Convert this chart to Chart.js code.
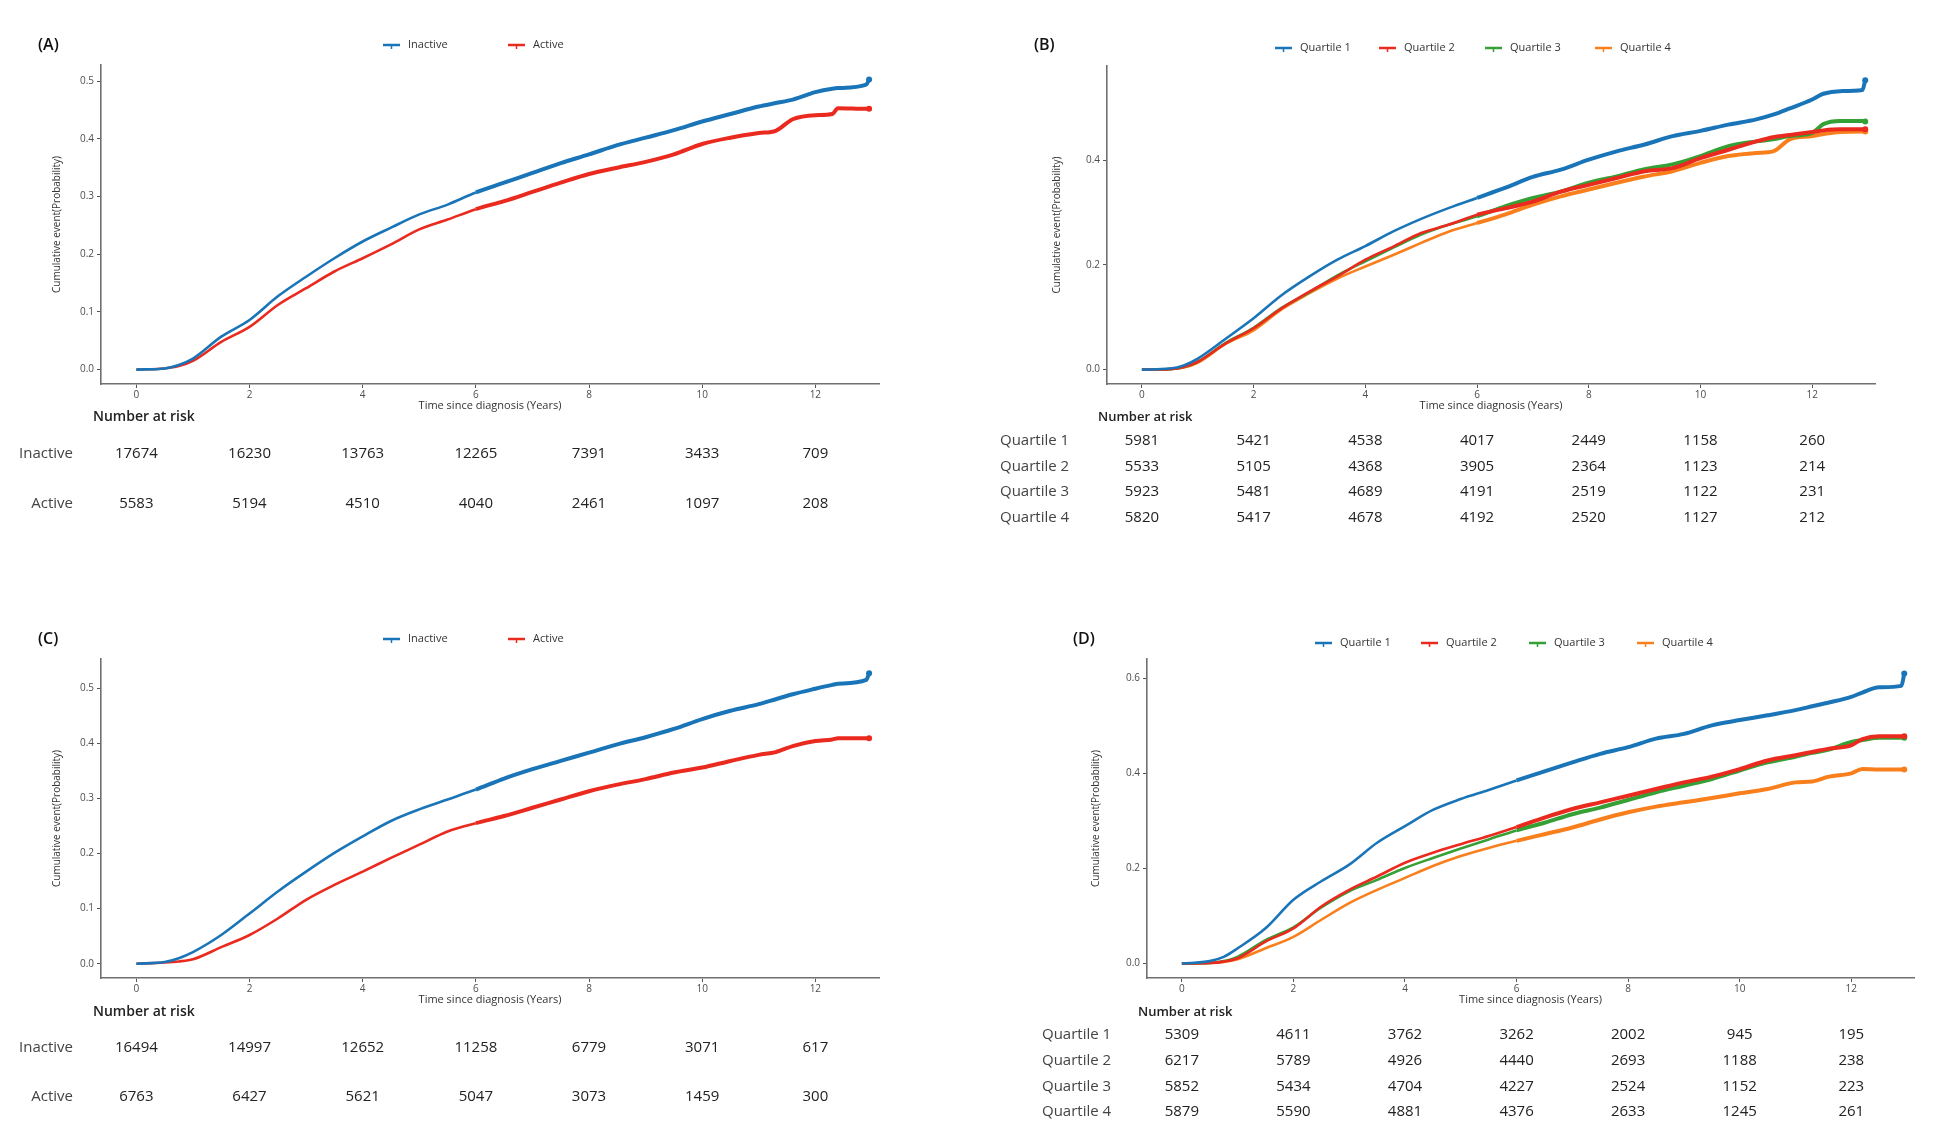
<!DOCTYPE html>
<html>
<head>
<meta charset="utf-8">
<script src="https://cdn.jsdelivr.net/npm/chart.js@4.4.0/dist/chart.umd.min.js"></script>
<style>
    body { margin: 0; background: #fff; }
    #wrap { position: relative; width: 1938px; height: 1125px; background: #fff; }
    canvas { position: absolute; }
</style>
</head>
<body>
<div id="wrap">
    <canvas id="chartA" width="969" height="562" style="left:0;top:0"></canvas>
    <canvas id="chartB" width="969" height="562" style="left:969px;top:0"></canvas>
    <canvas id="chartC" width="969" height="563" style="left:0;top:562px"></canvas>
    <canvas id="chartD" width="969" height="563" style="left:969px;top:562px"></canvas>
</div>
<script>
// time grids (years since diagnosis)
const timesAC = [0, 0.5, 0.75, 1, 1.5, 2, 2.5, 3, 3.5, 4, 4.5, 5, 5.5, 6, 6.5, 7, 7.5, 8, 8.5, 9, 9.5, 10, 10.5, 11, 11.3, 11.6, 12, 12.3, 12.4, 12.9, 12.95];
const timesBD = [0, 0.5, 0.75, 1, 1.5, 2, 2.5, 3, 3.5, 4, 4.5, 5, 5.5, 6, 6.5, 7, 7.5, 8, 8.5, 9, 9.5, 10, 10.5, 11, 11.3, 11.6, 12, 12.2, 12.5, 12.9, 12.95];

// (A) cumulative event probability
const aInactive = [0, 0.002, 0.008, 0.019, 0.057, 0.086, 0.127, 0.161, 0.193, 0.222, 0.246, 0.269, 0.286, 0.307, 0.324, 0.341, 0.358, 0.373, 0.389, 0.402, 0.415, 0.430, 0.443, 0.456, 0.462, 0.468, 0.481, 0.487, 0.488, 0.494, 0.503];
const aActive = [0, 0.002, 0.006, 0.015, 0.048, 0.074, 0.112, 0.141, 0.170, 0.193, 0.217, 0.243, 0.260, 0.278, 0.292, 0.308, 0.324, 0.339, 0.350, 0.360, 0.373, 0.391, 0.402, 0.410, 0.414, 0.434, 0.441, 0.443, 0.453, 0.452, 0.452];

// (B)
const bQ1 = [0, 0.002, 0.008, 0.021, 0.059, 0.098, 0.142, 0.178, 0.210, 0.236, 0.264, 0.288, 0.309, 0.328, 0.347, 0.368, 0.382, 0.401, 0.417, 0.430, 0.446, 0.456, 0.468, 0.478, 0.487, 0.499, 0.516, 0.527, 0.532, 0.534, 0.553];
const bQ2 = [0, 0.001, 0.005, 0.015, 0.050, 0.079, 0.117, 0.149, 0.178, 0.210, 0.235, 0.261, 0.277, 0.296, 0.308, 0.321, 0.340, 0.353, 0.366, 0.379, 0.385, 0.404, 0.420, 0.436, 0.444, 0.448, 0.454, 0.457, 0.459, 0.459, 0.459];
const bQ3 = [0, 0.001, 0.005, 0.015, 0.051, 0.080, 0.118, 0.148, 0.180, 0.207, 0.233, 0.258, 0.277, 0.293, 0.312, 0.328, 0.340, 0.357, 0.369, 0.383, 0.392, 0.408, 0.427, 0.436, 0.440, 0.446, 0.452, 0.469, 0.475, 0.475, 0.474];
const bQ4 = [0, 0.001, 0.004, 0.013, 0.049, 0.075, 0.115, 0.146, 0.174, 0.197, 0.219, 0.242, 0.264, 0.280, 0.296, 0.315, 0.331, 0.344, 0.357, 0.369, 0.379, 0.395, 0.408, 0.414, 0.417, 0.440, 0.446, 0.450, 0.454, 0.455, 0.455];

// (C)
const cInactive = [0, 0.003, 0.010, 0.021, 0.052, 0.091, 0.131, 0.167, 0.201, 0.231, 0.259, 0.280, 0.298, 0.316, 0.336, 0.353, 0.368, 0.383, 0.398, 0.411, 0.426, 0.444, 0.459, 0.471, 0.480, 0.489, 0.499, 0.506, 0.508, 0.515, 0.527];
const cActive = [0, 0.002, 0.004, 0.008, 0.030, 0.052, 0.082, 0.116, 0.143, 0.167, 0.192, 0.216, 0.240, 0.255, 0.268, 0.283, 0.298, 0.313, 0.325, 0.335, 0.347, 0.356, 0.368, 0.379, 0.384, 0.395, 0.404, 0.407, 0.409, 0.409, 0.409];

// (D)
const dQ1 = [0, 0.005, 0.014, 0.032, 0.074, 0.134, 0.173, 0.208, 0.254, 0.289, 0.323, 0.346, 0.365, 0.385, 0.404, 0.423, 0.441, 0.455, 0.473, 0.483, 0.501, 0.512, 0.522, 0.533, 0.541, 0.549, 0.561, 0.570, 0.581, 0.584, 0.610];
const dQ2 = [0, 0.001, 0.004, 0.011, 0.046, 0.074, 0.120, 0.155, 0.183, 0.212, 0.233, 0.251, 0.268, 0.287, 0.307, 0.325, 0.339, 0.353, 0.367, 0.381, 0.393, 0.409, 0.427, 0.438, 0.445, 0.452, 0.459, 0.472, 0.478, 0.478, 0.478];
const dQ3 = [0, 0.001, 0.005, 0.014, 0.049, 0.076, 0.118, 0.152, 0.176, 0.201, 0.222, 0.242, 0.261, 0.280, 0.296, 0.314, 0.328, 0.344, 0.360, 0.374, 0.388, 0.406, 0.423, 0.435, 0.443, 0.450, 0.466, 0.470, 0.475, 0.475, 0.475];
const dQ4 = [0, 0.001, 0.003, 0.009, 0.032, 0.056, 0.092, 0.127, 0.155, 0.180, 0.205, 0.226, 0.243, 0.258, 0.272, 0.286, 0.303, 0.318, 0.330, 0.339, 0.348, 0.358, 0.367, 0.381, 0.383, 0.393, 0.400, 0.409, 0.408, 0.408, 0.408];

// axis ticks and number at risk
const xTicks = [0, 2, 4, 6, 8, 10, 12];
const yTicksAC = [0, 0.1, 0.2, 0.3, 0.4, 0.5];
const yTicksB = [0, 0.2, 0.4];
const yTicksD = [0, 0.2, 0.4, 0.6];
const groupsActivity = ['Inactive', 'Active'];
const groupsQuartile = ['Quartile 1', 'Quartile 2', 'Quartile 3', 'Quartile 4'];

const riskA = [[17674, 16230, 13763, 12265, 7391, 3433, 709], [5583, 5194, 4510, 4040, 2461, 1097, 208]];
const riskB = [[5981, 5421, 4538, 4017, 2449, 1158, 260], [5533, 5105, 4368, 3905, 2364, 1123, 214],
               [5923, 5481, 4689, 4191, 2519, 1122, 231], [5820, 5417, 4678, 4192, 2520, 1127, 212]];
const riskC = [[16494, 14997, 12652, 11258, 6779, 3071, 617], [6763, 6427, 5621, 5047, 3073, 1459, 300]];
const riskD = [[5309, 4611, 3762, 3262, 2002, 945, 195], [6217, 5789, 4926, 4440, 2693, 1188, 238],
               [5852, 5434, 4704, 4227, 2524, 1152, 223], [5879, 5590, 4881, 4376, 2633, 1245, 261]];

const BLUE = '#1a75b8';
const RED = '#ea2a1f';
const GREEN = '#35a035';
const ORANGE = '#f97f1c';

Chart.defaults.font.family = "'Open Sans', sans-serif";
Chart.defaults.color = '#444';

// panel tag, legend and number-at-risk table
const panelExtras = {
    id: 'panelExtras',
    afterDraw(chart, args, o) {
        const ctx = chart.ctx;
        ctx.save();
        ctx.textBaseline = 'middle';

        ctx.fillStyle = '#111';
        ctx.font = "600 16px 'Open Sans'";
        ctx.textAlign = 'left';
        ctx.fillText(o.tag, o.tagX, o.tagY);

        // legend
        ctx.font = "11px 'Open Sans'";
        chart.data.datasets.forEach((ds, i) => {
            const x = o.legendX[i];
            const y = o.legendY;
            ctx.strokeStyle = ds.borderColor;
            ctx.lineWidth = 2.5;
            ctx.beginPath();
            ctx.moveTo(x, y);
            ctx.lineTo(x + 17, y);
            ctx.stroke();
            ctx.lineWidth = 1.5;
            ctx.beginPath();
            ctx.moveTo(x + 8.5, y);
            ctx.lineTo(x + 8.5, y + 4);
            ctx.stroke();
            ctx.fillStyle = '#333';
            ctx.fillText(ds.label, x + 25, y);
        });

        // number at risk
        const xs = chart.scales.x;
        ctx.fillStyle = '#222';
        ctx.font = "600 " + o.riskTitleSize + "px 'Open Sans'";
        ctx.fillText('Number at risk', o.riskTitleX, o.riskTitleY);
        o.risk.forEach((row, r) => {
            const y = o.rowY[r];
            ctx.font = "15px 'Open Sans'";
            ctx.fillStyle = '#444';
            ctx.textAlign = o.labelAlign;
            ctx.fillText(o.groups[r], o.labelX, y);
            ctx.fillStyle = '#222';
            ctx.textAlign = 'center';
            row.forEach((v, k) => {
                ctx.fillText(String(v), xs.getPixelForValue(xTicks[k]), y);
            });
        });
        ctx.restore();
    }
};

function makePanel(id, p) {
    const datasets = p.series.map((vals, i) => ({
        label: p.groups[i],
        data: p.times.map((t, k) => ({ x: t, y: vals[k] })),
        borderColor: p.colors[i],
        backgroundColor: p.colors[i],
        borderWidth: 2.6,
        cubicInterpolationMode: 'monotone',
        fill: false,
        pointRadius: c => c.dataIndex === p.times.length - 1 ? 3 : 0,
        pointBorderWidth: 0,
        segment: {
            borderWidth: c => c.p0.parsed.x >= 6 ? 4 : 2.6
        }
    }));

    new Chart(document.getElementById(id), {
        type: 'line',
        data: { datasets: datasets },
        options: {
            responsive: false,
            animation: false,
            layout: { padding: p.padding },
            plugins: {
                legend: { display: false },
                tooltip: { enabled: false },
                panelExtras: p.extras
            },
            scales: {
                x: {
                    type: 'linear',
                    min: -0.625,
                    max: 13.125,
                    afterBuildTicks: s => { s.ticks = xTicks.map(v => ({ value: v })); },
                    afterFit: s => { s.height = 28; },
                    ticks: { font: { size: 10 }, color: '#4d4d4d', padding: 1, callback: v => String(v) },
                    grid: { display: true, drawOnChartArea: false, drawTicks: true, tickLength: 4, color: '#555' },
                    border: { display: true, color: '#707070', width: 1.6 },
                    title: { display: true, text: 'Time since diagnosis (Years)', font: { size: 11 }, color: '#333', padding: { top: 0, bottom: 0 } }
                },
                y: {
                    type: 'linear',
                    min: p.yMin,
                    max: p.yMax,
                    afterBuildTicks: s => { s.ticks = p.yTicks.map(v => ({ value: v })); },
                    afterFit: s => { s.width = p.yWidth; },
                    ticks: { font: { size: 10 }, color: '#4d4d4d', padding: 3, callback: v => v.toFixed(1) },
                    grid: { display: true, drawOnChartArea: false, drawTicks: true, tickLength: 4, color: '#555' },
                    border: { display: true, color: '#707070', width: 1.6 },
                    title: { display: true, text: 'Cumulative event(Probability)', font: { size: 10 }, color: '#333', padding: { top: 3, bottom: 3 } }
                }
            }
        },
        plugins: [panelExtras]
    });
}

makePanel('chartA', {
    times: timesAC, series: [aInactive, aActive], groups: groupsActivity, colors: [BLUE, RED],
    yMin: -0.025, yMax: 0.528, yTicks: yTicksAC, yWidth: 53,
    padding: { left: 48, right: 90, top: 65, bottom: 150 },
    extras: { tag: '(A)', tagX: 38, tagY: 45, legendX: [383, 508], legendY: 45,
              risk: riskA, groups: groupsActivity, riskTitleX: 93, riskTitleY: 417, riskTitleSize: 14,
              rowY: [454, 504], labelX: 73, labelAlign: 'right' }
});

makePanel('chartB', {
    times: timesBD, series: [bQ1, bQ2, bQ3, bQ4], groups: groupsQuartile, colors: [BLUE, RED, GREEN, ORANGE],
    yMin: -0.0275, yMax: 0.58, yTicks: yTicksB, yWidth: 59,
    padding: { left: 79, right: 63, top: 66, bottom: 150 },
    extras: { tag: '(B)', tagX: 65, tagY: 45, legendX: [306, 410, 516, 626], legendY: 48,
              risk: riskB, groups: groupsQuartile, riskTitleX: 129, riskTitleY: 417, riskTitleSize: 13,
              rowY: [441, 467, 492, 518], labelX: 31, labelAlign: 'left' }
});

makePanel('chartC', {
    times: timesAC, series: [cInactive, cActive], groups: groupsActivity, colors: [BLUE, RED],
    yMin: -0.026, yMax: 0.553, yTicks: yTicksAC, yWidth: 53,
    padding: { left: 48, right: 90, top: 97, bottom: 119 },
    extras: { tag: '(C)', tagX: 38, tagY: 77, legendX: [383, 508], legendY: 77,
              risk: riskC, groups: groupsActivity, riskTitleX: 93, riskTitleY: 450, riskTitleSize: 14,
              rowY: [486, 535], labelX: 73, labelAlign: 'right' }
});

makePanel('chartD', {
    times: timesBD, series: [dQ1, dQ2, dQ3, dQ4], groups: groupsQuartile, colors: [BLUE, RED, GREEN, ORANGE],
    yMin: -0.0305, yMax: 0.6405, yTicks: yTicksD, yWidth: 60,
    padding: { left: 118, right: 24, top: 97, bottom: 119 },
    extras: { tag: '(D)', tagX: 104, tagY: 77, legendX: [346, 452, 560, 668], legendY: 81,
              risk: riskD, groups: groupsQuartile, riskTitleX: 169, riskTitleY: 450, riskTitleSize: 13,
              rowY: [473, 499, 525, 550], labelX: 73, labelAlign: 'left' }
});
</script>
</body>
</html>
